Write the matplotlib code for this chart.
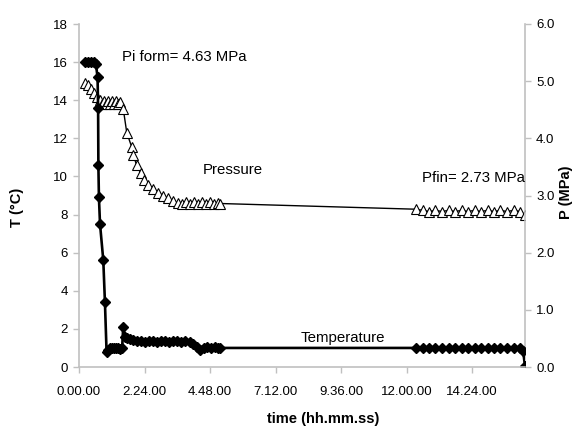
import matplotlib
matplotlib.use("Agg")
import matplotlib.pyplot as plt

plt.rcParams['font.family'] = ['Liberation Sans', 'DejaVu Sans']

# Temperature series (time in hours, T in °C)
temp_time = [0.22, 0.33, 0.44, 0.55, 0.62, 0.68, 0.70, 0.71, 0.73, 0.77, 0.89, 0.95,
             1.01, 1.06, 1.14, 1.21, 1.28, 1.36, 1.43, 1.50, 1.58, 1.62, 1.69, 1.76,
             1.87, 1.98, 2.13, 2.27, 2.42, 2.56, 2.71, 2.86, 3.00, 3.15, 3.30, 3.44,
             3.59, 3.74, 3.88, 4.07, 4.18, 4.32, 4.43, 4.58, 4.69, 4.84, 4.98, 5.09,
             5.17,
             12.35, 12.59, 12.83, 13.06, 13.30, 13.54, 13.78, 14.02, 14.25, 14.49,
             14.73, 14.97, 15.21, 15.44, 15.68, 15.92, 16.16, 16.27, 16.34]
temp_vals = [16.0, 16.0, 16.0, 16.0, 15.9, 15.2, 13.6, 10.6, 8.9, 7.5, 5.6, 3.4,
             0.8, 0.9, 1.0, 1.0, 1.0, 1.0, 1.0, 0.95, 1.0, 2.1, 1.6, 1.5,
             1.45, 1.4, 1.35, 1.35, 1.3, 1.35, 1.35, 1.3, 1.35, 1.35, 1.3, 1.35,
             1.35, 1.3, 1.35, 1.3, 1.2, 1.05, 0.9, 1.0, 1.05, 1.0, 1.05, 1.0,
             1.0,
             1.0, 1.0, 1.0, 1.0, 1.0, 1.0, 1.0, 1.0, 1.0, 1.0,
             1.0, 1.0, 1.0, 1.0, 1.0, 1.0, 1.0, 0.85, 0.05]

# Pressure series (time in hours, P in MPa)
pres_time = [0.22, 0.33, 0.44, 0.55, 0.66, 0.77, 0.84, 0.92, 0.99, 1.06, 1.14, 1.21,
             1.28, 1.36, 1.43, 1.50, 1.62, 1.75, 1.93, 1.99, 2.11, 2.26, 2.38, 2.54,
             2.72, 2.91, 3.09, 3.27, 3.46, 3.63, 3.77, 3.92, 4.07, 4.21, 4.36, 4.51,
             4.65, 4.80, 4.95, 5.09, 5.17,
             12.35, 12.59, 12.83, 13.06, 13.30, 13.54, 13.78, 14.02, 14.25, 14.49,
             14.73, 14.97, 15.21, 15.44, 15.68, 15.92, 16.16, 16.34]
pres_vals = [4.97, 4.93, 4.87, 4.80, 4.73, 4.67, 4.60, 4.65, 4.60, 4.65, 4.60, 4.65,
             4.60, 4.65, 4.60, 4.63, 4.52, 4.10, 3.85, 3.71, 3.53, 3.39, 3.27, 3.18,
             3.11, 3.05, 3.00, 2.95, 2.90, 2.87, 2.86, 2.88, 2.85, 2.88, 2.85, 2.88,
             2.85, 2.88, 2.85, 2.87, 2.86,
             2.76, 2.74, 2.72, 2.74, 2.72, 2.74, 2.72, 2.74, 2.72, 2.74,
             2.72, 2.74, 2.72, 2.74, 2.72, 2.74, 2.72, 2.66]

x_ticks = [0.0, 2.4, 4.8, 7.2, 9.6, 12.0, 14.4]
x_labels = ["0.00.00", "2.24.00", "4.48.00", "7.12.00", "9.36.00", "12.00.00", "14.24.00"]
t_ticks = [0, 2, 4, 6, 8, 10, 12, 14, 16, 18]
p_ticks = [0.0, 1.0, 2.0, 3.0, 4.0, 5.0, 6.0]

fig = plt.figure(figsize=(5.75, 4.28), dpi=100)
ax = fig.add_axes([79/575, 1-367/428, (525-79)/575, (367-24)/428])
ax2 = ax.twinx()

grey = '#c0c0c0'

ax2.plot(pres_time, pres_vals, color='black', lw=1.0, marker='^', markersize=7,
         markerfacecolor='white', markeredgecolor='black', markeredgewidth=0.8)
ax.plot(temp_time, temp_vals, color='black', lw=1.9, marker='D', markersize=5,
        markerfacecolor='black', markeredgecolor='black')

ax.set_zorder(ax2.get_zorder() + 1)
ax.patch.set_visible(False)

ax.set_xlim(0, 16.34)
ax.set_ylim(0, 18)
ax2.set_ylim(0, 6)

ax.set_xticks(x_ticks)
ax.set_xticklabels(x_labels)
ax.set_yticks(t_ticks)
ax.set_yticklabels([str(v) for v in t_ticks])
ax2.set_yticks(p_ticks)
ax2.set_yticklabels([f"{v:.1f}" for v in p_ticks])

for a in (ax, ax2):
    for s in a.spines.values():
        s.set_color(grey)
        s.set_linewidth(1.2)
    a.spines['top'].set_visible(False)
    a.tick_params(axis='both', direction='out', length=4, width=1, color=grey,
                  labelsize=9.5, labelcolor='black', pad=4)
ax.spines['right'].set_visible(False)
ax2.spines['left'].set_visible(False)
ax2.spines['bottom'].set_visible(False)
ax.tick_params(axis='x', pad=10)

ax.text(1.58, 16.26, "Pi form= 4.63 MPa", fontsize=10.8, ha='left', va='center')
ax.text(4.54, 10.34, "Pressure", fontsize=10.8, ha='left', va='center')
ax.text(12.57, 9.92, "Pfin= 2.73 MPa", fontsize=10.8, ha='left', va='center', clip_on=False)
ax.text(8.13, 1.52, "Temperature", fontsize=10.8, ha='left', va='center')

fig.text(17/575, 1-207/428, "T (°C)", rotation=90, fontsize=10.5, fontweight='bold',
         ha='center', va='center')
fig.text(566/575, 1-192/428, "P (MPa)", rotation=90, fontsize=10.5, fontweight='bold',
         ha='center', va='center')
fig.text(323/575, 1-419/428, "time (hh.mm.ss)", fontsize=10.5, fontweight='bold',
         ha='center', va='center')

fig.savefig("out.png", dpi=100)
